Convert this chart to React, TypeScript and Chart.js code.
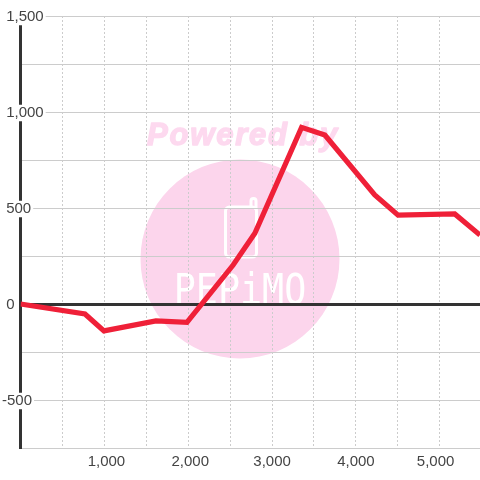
import React, { useEffect, useRef } from "react";
import { Chart, registerables } from "chart.js";

Chart.register(...registerables);

const xValues = [0, 769, 995, 1615, 1985, 2536, 2795, 3352, 3630, 4225, 4503, 5179, 5480];
const yValues = [0, -52, -140, -88, -96, 203, 368, 920, 880, 568, 463, 469, 359];
const xTickValues = [0, 500, 1000, 1500, 2000, 2500, 3000, 3500, 4000, 4500, 5000];
const xTickLabels: Record<number, string> = { 1000: " 1,000", 2000: " 2,000", 3000: "3,000", 4000: "4,000", 5000: "5,000  " };
const yTickLabels: Record<number, string> = { 1500: " 1,500", 1000: " 1,000", 500: " 500", 0: " 0", [-500]: "-500" };
const watermarkTitle = "Powered by";
const watermarkLogo = "PEPiMO";

const GREY = "#cccccc";
const DARK = "#333333";
const PINK = "#fcd5ec";

const watermark = {
  id: "watermark",
  beforeDraw(chart: any) {
    const c = chart.ctx;
    c.save();
    c.fillStyle = "#fdd9ef";
    c.strokeStyle = "#fdd9ef";
    c.lineWidth = 1.4;
    c.lineJoin = "round";
    c.font = "italic bold 31px 'Liberation Sans'";
    c.letterSpacing = "1.8px";
    c.textAlign = "center";
    c.textBaseline = "alphabetic";
    c.fillText(watermarkTitle, 243, 145);
    c.strokeText(watermarkTitle, 243, 145);
    c.letterSpacing = "0px";
    c.fillStyle = PINK;
    c.beginPath();
    c.arc(240, 259, 99.5, 0, Math.PI * 2);
    c.fill();
    c.strokeStyle = "#ffffff";
    c.lineWidth = 3;
    c.beginPath();
    c.roundRect(225.5, 207, 31, 50, 4);
    c.stroke();
    c.beginPath();
    c.moveTo(251, 207);
    c.lineTo(251, 201);
    c.arc(253.5, 201, 2.5, Math.PI, 0);
    c.lineTo(256, 210);
    c.stroke();
    c.fillStyle = "#ffffff";
    c.translate(240, 304);
    c.scale(1.02, 1.18);
    c.font = "36px 'DejaVu Sans Mono'";
    c.fillText(watermarkLogo, 0, 0);
    c.restore();
  },
};

export default function App() {
  const ref = useRef<HTMLCanvasElement>(null);
  useEffect(() => {
    const chart = new Chart(ref.current!, {
      type: "line",
      data: {
        datasets: [
          {
            data: xValues.map((x, i) => ({ x, y: yValues[i] })),
            borderColor: "#ef2038",
            borderWidth: 5.2,
            borderJoinStyle: "miter",
            pointRadius: 0,
            tension: 0,
          },
        ],
      },
      plugins: [watermark],
      options: {
        animation: false,
        responsive: false,
        devicePixelRatio: 1,
        layout: { autoPadding: false, padding: { left: 20.5, top: 16, right: 0, bottom: 5 } },
        plugins: { legend: { display: false }, title: { display: false }, tooltip: { enabled: false } },
        scales: {
          x: {
            type: "linear",
            min: 0,
            max: 5480,
            bounds: "data",
            afterBuildTicks: (s: any) => { s.ticks = xTickValues.map((value) => ({ value })); },
            grid: { color: GREY, lineWidth: 1, drawTicks: false },
            border: { color: GREY, width: 1, dash: [2, 2] },
            ticks: {
              autoSkip: false,
              maxRotation: 0,
              padding: 5.25,
              color: "#444444",
              font: { family: "'Liberation Sans'", size: 15, lineHeight: 1.1 },
              callback: (v: any) => xTickLabels[v] ?? "",
            },
          },
          y: {
            type: "linear",
            min: -750,
            max: 1500,
            afterFit: (s: any) => { s.width = 0; },
            grid: {
              color: (ctx: any) => (ctx.tick?.value === 0 ? DARK : GREY),
              lineWidth: (ctx: any) => (ctx.tick?.value === 0 ? 3 : 1),
              drawTicks: false,
            },
            border: { color: DARK, width: 3 },
            ticks: {
              stepSize: 250,
              includeBounds: false,
              autoSkip: false,
              mirror: true,
              padding: -18.5,
              labelOffset: 1,
              crossAlign: "near",
              color: "#444444",
              font: { family: "'Liberation Sans'", size: 15, lineHeight: 1.1 },
              showLabelBackdrop: true,
              backdropPadding: { left: 2, right: 2, top: 0, bottom: 0 },
              backdropColor: (ctx: any) => (yTickLabels[ctx.tick?.value] ? "#ffffff" : "rgba(0,0,0,0)"),
              callback: (v: any) => yTickLabels[v] ?? "",
            },
          },
        },
      },
    } as any);
    return () => chart.destroy();
  }, []);
  return (
    <canvas
      ref={ref}
      width={480}
      height={480}
      style={{ position: "fixed", left: 0, top: 0, width: 480, height: 480 }}
    />
  );
}
